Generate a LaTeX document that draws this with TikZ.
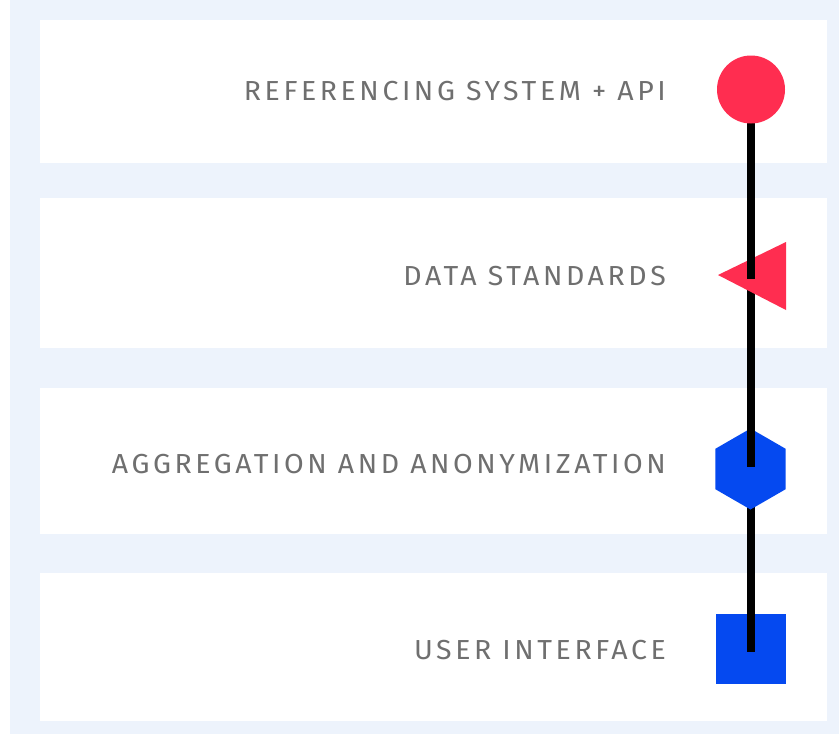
\documentclass[tikz,border=0pt]{standalone}
\usepackage{fontspec}
\setmainfont{Fira Sans}[LetterSpace=13,FakeStretch=1.035]
\usetikzlibrary{shapes.geometric}
\definecolor{bgblue}{HTML}{EDF3FC}
\definecolor{myred}{HTML}{FF2D50}
\definecolor{myblue}{HTML}{0549F0}
\definecolor{txtgray}{HTML}{6F6F6F}
\tikzset{
  panel/.style={fill=white},
  lbl/.style={anchor=east, text=txtgray, inner sep=0pt, font=\fontsize{27.5}{27.5}\selectfont},
  conn/.style={line width=7.5pt, black},
  shp/.style={draw=none, inner sep=0pt}
}
\begin{document}
\begin{tikzpicture}[x=1pt,y=-1pt]
\useasboundingbox (0,0) rectangle (839,734);
\fill[bgblue] (10,0) rectangle (839,734);
\fill[panel] (40,20) rectangle (827,163);
\fill[panel] (40,198) rectangle (827,348);
\fill[panel] (40,388) rectangle (827,534);
\fill[panel] (40,573) rectangle (827,721);

\node[lbl] (t1) at (666,91) {REFERENCING SYSTEM + API};
\node[lbl] (t2) at (666,276) {DATA STANDARDS};
\node[lbl] (t3) at (666,464) {AGGREGATION AND ANONYMIZATION};
\node[lbl] (t4) at (666,650) {USER INTERFACE};

% shapes and connectors in stacking order
\coordinate (sqc) at (751,652);
\coordinate (hexc) at (751,467);
\coordinate (tric) at (751,279);
\coordinate (circc) at (751,89);
\node[shp, fill=myblue, rectangle, minimum size=70pt] (sq) at (751,649) {};
\draw[conn] (hexc) -- (sqc);
\node[shp, fill=myblue, regular polygon, regular polygon sides=6, shape border rotate=30, minimum size=81pt] (hex) at (750.5,469) {};
\draw[conn] (tric) -- (hexc);
\fill[myred] (718,275) -- (786,242) -- (786,310) -- cycle;
\draw[conn] (circc) -- (tric);
\node[shp, fill=myred, circle, minimum size=68pt] (circ) at (751,89.5) {};
\end{tikzpicture}
\end{document}
